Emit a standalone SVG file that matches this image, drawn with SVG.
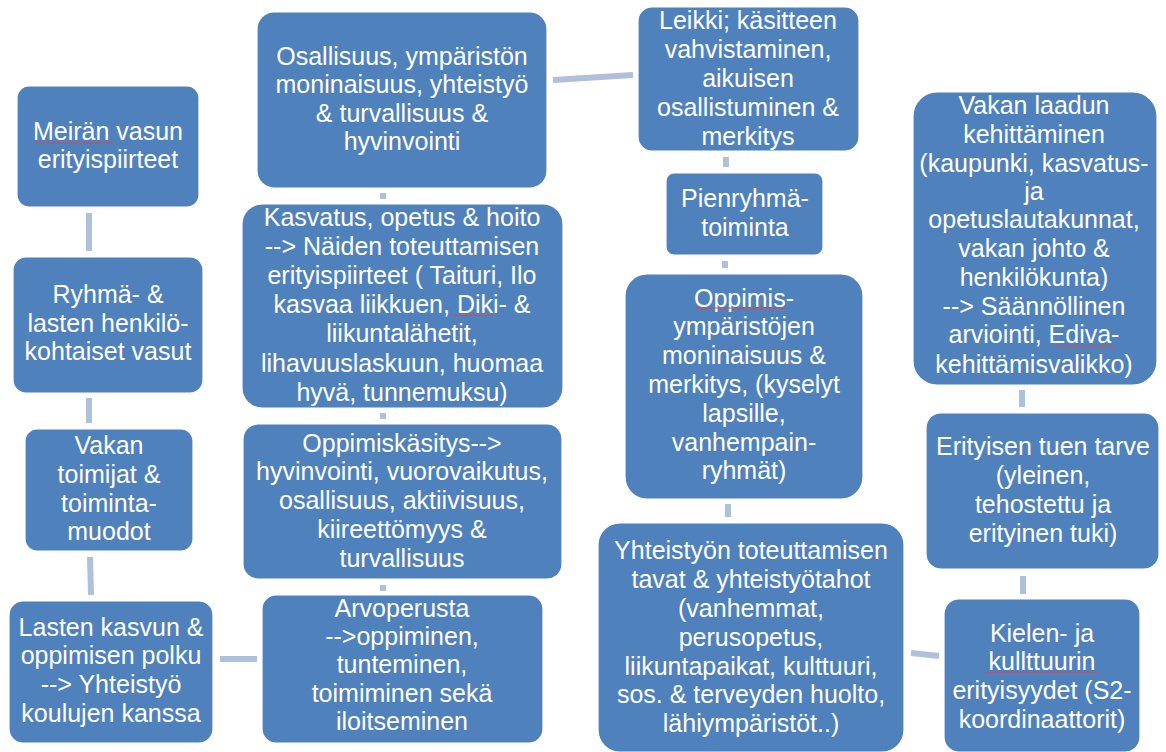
<svg xmlns="http://www.w3.org/2000/svg" width="1166" height="752" viewBox="0 0 1166 752">
<style>
.box{fill:#4F81BD;stroke:#FFFFFF;stroke-width:1.2}
.t{font-family:"Liberation Sans",Arial,sans-serif;font-size:25px;fill:#FFFFFF;text-anchor:middle}
.c{stroke:#AFC0DC;stroke-width:6;fill:none}
.sp{stroke:#D9464F;stroke-width:1;fill:none}
</style>
<rect width="1166" height="752" fill="#FFFFFF"/>
<g id="connectors">
<line class="c" x1="89" y1="213" x2="89" y2="251"/>
<line class="c" x1="89" y1="398" x2="89" y2="423"/>
<line class="c" x1="90" y1="557" x2="91" y2="595"/>
<line class="c" x1="220" y1="659" x2="257" y2="659"/>
<line class="c" x1="553" y1="80" x2="633" y2="75"/>
<line class="c" x1="383" y1="193" x2="383" y2="199"/>
<line class="c" x1="383" y1="413" x2="383" y2="419"/>
<line class="c" x1="383" y1="585" x2="383" y2="591"/>
<line class="c" x1="726" y1="157" x2="726" y2="167"/>
<line class="c" x1="725" y1="261" x2="725" y2="268"/>
<line class="c" x1="728" y1="504" x2="728" y2="517"/>
<line class="c" x1="911" y1="653" x2="939" y2="656"/>
<line class="c" x1="1023" y1="576" x2="1023" y2="594"/>
<line class="c" x1="1022" y1="390" x2="1022" y2="407"/>
</g>
<g id="n1">
<rect class="box" x="17" y="86" width="182" height="121" rx="12"/>
<text class="t"><tspan x="108" y="140">Meirän vasun</tspan><tspan x="108" y="168">erityispiirteet</tspan></text>
<line class="sp" x1="35" y1="143" x2="113" y2="143"/>
</g>
<g id="n2">
<rect class="box" x="13" y="257" width="190" height="136" rx="13"/>
<text class="t"><tspan x="108" y="303">Ryhmä- &amp;</tspan><tspan x="108" y="332">lasten henkilö-</tspan><tspan x="108" y="360">kohtaiset vasut</tspan></text>
</g>
<g id="n3">
<rect class="box" x="25" y="429" width="168" height="122" rx="12"/>
<text class="t"><tspan x="109" y="454">Vakan</tspan><tspan x="109" y="483">toimijat &amp;</tspan><tspan x="109" y="512">toiminta-</tspan><tspan x="109" y="540">muodot</tspan></text>
</g>
<g id="n4">
<rect class="box" x="9" y="601" width="204" height="142" rx="14"/>
<text class="t"><tspan x="111" y="636">Lasten kasvun &amp;</tspan><tspan x="111" y="664">oppimisen polku</tspan><tspan x="111" y="693">--&gt; Yhteistyö</tspan><tspan x="111" y="722">koulujen kanssa</tspan></text>
</g>
<g id="n5">
<rect class="box" x="257" y="12" width="290" height="176" rx="17"/>
<text class="t"><tspan x="402" y="65">Osallisuus, ympäristön</tspan><tspan x="402" y="93">moninaisuus, yhteistyö</tspan><tspan x="402" y="122">&amp; turvallisuus &amp;</tspan><tspan x="402" y="150">hyvinvointi</tspan></text>
</g>
<g id="n6">
<rect class="box" x="638" y="7" width="221" height="144" rx="14"/>
<text class="t"><tspan x="748" y="29">Leikki; käsitteen</tspan><tspan x="748" y="58">vahvistaminen,</tspan><tspan x="748" y="87">aikuisen</tspan><tspan x="748" y="116">osallistuminen &amp;</tspan><tspan x="748" y="145">merkitys</tspan></text>
</g>
<g id="n7">
<rect class="box" x="242" y="204" width="321" height="204" rx="20"/>
<text class="t"><tspan x="402" y="226">Kasvatus, opetus &amp; hoito</tspan><tspan x="402" y="255">--&gt; Näiden toteuttamisen</tspan><tspan x="402" y="284">erityispiirteet ( Taituri, Ilo</tspan><tspan x="402" y="313">kasvaa liikkuen, Diki- &amp;</tspan><tspan x="402" y="342">liikuntalähetit,</tspan><tspan x="402" y="372">lihavuuslaskuun, huomaa</tspan><tspan x="402" y="401">hyvä, tunnemuksu)</tspan></text>
<line class="sp" x1="454" y1="315" x2="494" y2="315"/>
</g>
<g id="n8">
<rect class="box" x="243" y="424" width="319" height="155" rx="15"/>
<text class="t"><tspan x="402" y="452">Oppimiskäsitys--&gt;</tspan><tspan x="402" y="480">hyvinvointi, vuorovaikutus,</tspan><tspan x="402" y="509">osallisuus, aktiivisuus,</tspan><tspan x="402" y="538">kiireettömyys &amp;</tspan><tspan x="402" y="567">turvallisuus</tspan></text>
</g>
<g id="n9">
<rect class="box" x="262" y="595" width="281" height="148" rx="14"/>
<text class="t"><tspan x="402" y="617">Arvoperusta</tspan><tspan x="402" y="645">--&gt;oppiminen,</tspan><tspan x="402" y="673">tunteminen,</tspan><tspan x="402" y="702">toimiminen sekä</tspan><tspan x="402" y="730">iloitseminen</tspan></text>
</g>
<g id="n10">
<rect class="box" x="666" y="173" width="157" height="82" rx="8"/>
<text class="t"><tspan x="745" y="207">Pienryhmä-</tspan><tspan x="745" y="236">toiminta</tspan></text>
</g>
<g id="n11">
<rect class="box" x="625" y="274" width="238" height="225" rx="22"/>
<text class="t"><tspan x="744" y="307">Oppimis-</tspan><tspan x="744" y="335">ympäristöjen</tspan><tspan x="744" y="364">moninaisuus &amp;</tspan><tspan x="744" y="393">merkitys, (kyselyt</tspan><tspan x="744" y="422">lapsille,</tspan><tspan x="744" y="451">vanhempain-</tspan><tspan x="744" y="479">ryhmät)</tspan></text>
<line class="sp" x1="695" y1="308" x2="785" y2="308"/>
</g>
<g id="n12">
<rect class="box" x="598" y="523" width="306" height="229" rx="22"/>
<text class="t"><tspan x="751" y="559">Yhteistyön toteuttamisen</tspan><tspan x="751" y="588">tavat &amp; yhteistyötahot</tspan><tspan x="751" y="617">(vanhemmat,</tspan><tspan x="751" y="646">perusopetus,</tspan><tspan x="751" y="675">liikuntapaikat, kulttuuri,</tspan><tspan x="751" y="703">sos. &amp; terveyden huolto,</tspan><tspan x="751" y="732">lähiympäristöt..)</tspan></text>
</g>
<g id="n13">
<rect class="box" x="944" y="599" width="196" height="153" rx="15"/>
<text class="t"><tspan x="1042" y="642">Kielen- ja</tspan><tspan x="1042" y="670">kullttuurin</tspan><tspan x="1042" y="699">erityisyydet (S2-</tspan><tspan x="1042" y="728">koordinaattorit)</tspan></text>
<line class="sp" x1="985" y1="672" x2="1099" y2="672"/>
</g>
<g id="n14">
<rect class="box" x="926" y="413" width="233" height="156" rx="15"/>
<text class="t"><tspan x="1043" y="455">Erityisen tuen tarve</tspan><tspan x="1043" y="484">(yleinen,</tspan><tspan x="1043" y="513">tehostettu ja</tspan><tspan x="1043" y="542">erityinen tuki)</tspan></text>
</g>
<g id="n15">
<rect class="box" x="913" y="92" width="244" height="293" rx="24"/>
<text class="t"><tspan x="1034" y="114">Vakan laadun</tspan><tspan x="1034" y="143">kehittäminen</tspan><tspan x="1034" y="172">(kaupunki, kasvatus-</tspan><tspan x="1034" y="200">ja</tspan><tspan x="1034" y="228">opetuslautakunnat,</tspan><tspan x="1034" y="257">vakan johto &amp;</tspan><tspan x="1034" y="286">henkilökunta)</tspan><tspan x="1034" y="315">--&gt; Säännöllinen</tspan><tspan x="1034" y="343">arviointi, Ediva-</tspan><tspan x="1034" y="373">kehittämisvalikko)</tspan></text>
<line class="sp" x1="1056" y1="346" x2="1113" y2="346"/>
</g>
</svg>
